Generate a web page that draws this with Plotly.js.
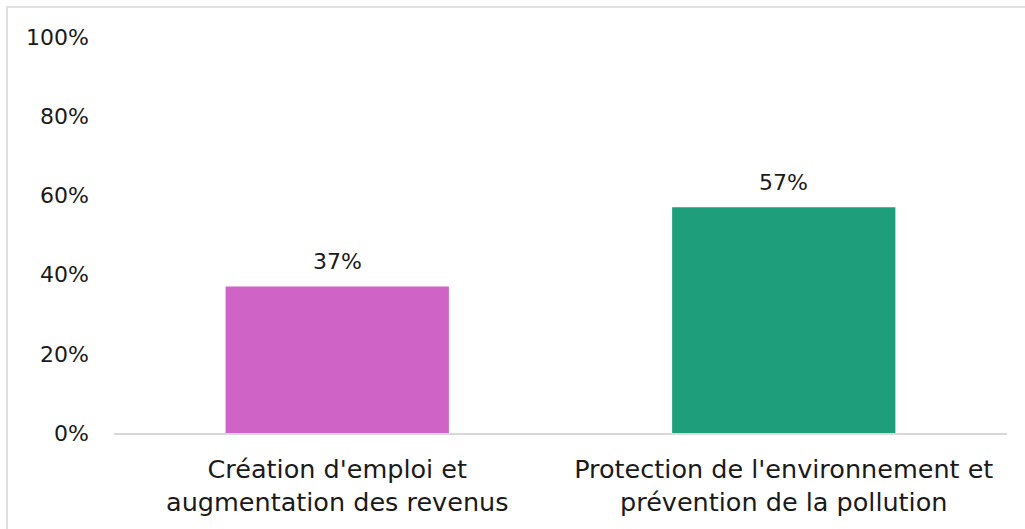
<!DOCTYPE html>
<html>
<head>
<meta charset="utf-8">
<script src="https://cdn.plot.ly/plotly-3.0.1.min.js"></script>
<style>
  html, body { margin: 0; padding: 0; background: #fff; }
  #wrap { position: relative; width: 1025px; height: 529px; overflow: hidden; }
  #frame { position: absolute; left: 6px; top: 6px; width: 1030px; height: 540px;
           border-left: 2px solid #e0e0e0; border-top: 2px solid #e0e0e0; box-sizing: border-box; pointer-events: none; }
  #chart { position: absolute; left: 0; top: 0; width: 1025px; height: 529px; }
</style>
</head>
<body>
<div id="wrap">
  <div id="chart"></div>
  <div id="frame"></div>
</div>
<script>
const categories = ["Création d'emploi et<br>augmentation des revenus", "Protection de l'environnement et<br>prévention de la pollution"];
const values = [0.37, 0.57];
const labels = ["37%", "57%"];
const colors = ["#D063C6", "#1F9E7B"];
const yTicks = [0, 0.2, 0.4, 0.6, 0.8, 1.0];
const yTickLabels = ["0%", "20%", "40%", "60%", "80%", "100%"];

const font = "'DejaVu Sans', sans-serif";
const fsize = 22;

const annotations = categories.map((c, i) => ({
  x: c, y: values[i], xref: 'x', yref: 'y',
  text: labels[i], showarrow: false,
  yanchor: 'bottom', yshift: 10,
  font: { family: font, size: fsize, color: '#1a1a1a' }
}));

Plotly.newPlot('chart', [{
  type: 'bar',
  x: categories,
  y: values,
  marker: { color: colors },
  width: 0.5,
  hoverinfo: 'none'
}], {
  width: 1025, height: 529,
  margin: { l: 114, r: 18, t: 37, b: 96 },
  paper_bgcolor: 'rgba(0,0,0,0)',
  plot_bgcolor: 'rgba(0,0,0,0)',
  font: { family: font, size: fsize, color: '#1a1a1a' },
  showlegend: false,
  annotations: annotations,
  yaxis: {
    range: [0, 1],
    tickvals: yTicks,
    ticktext: yTickLabels,
    showgrid: false,
    zeroline: false,
    showline: false,
    ticks: '',
    ticklabelstandoff: 24,
    tickfont: { family: font, size: fsize, color: '#1a1a1a' }
  },
  xaxis: {
    showline: true,
    linecolor: '#d9d9d9',
    linewidth: 2,
    ticks: '',
    ticklabelstandoff: 12,
    tickfont: { family: font, size: 25.5, color: '#1a1a1a' }
  }
}, { staticPlot: true });
</script>
</body>
</html>
